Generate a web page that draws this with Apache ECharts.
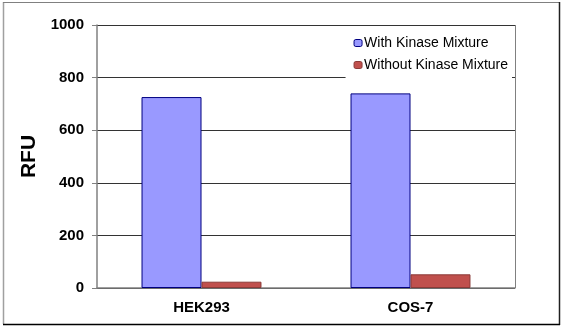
<!DOCTYPE html>
<html><head><meta charset="utf-8">
<script src="https://cdn.jsdelivr.net/npm/echarts@6/dist/echarts.min.js"></script>
<style>html,body{margin:0;padding:0;background:#fff}#c{width:562px;height:328px}</style>
</head><body><div id="c"></div>
<script>
var categories = ['HEK293', 'COS-7'];
var withKinase = [726, 740];
var withoutKinase = [24, 52];
var yTicks = [0, 200, 400, 600, 800, 1000];

var chart = echarts.init(document.getElementById('c'), null, {renderer: 'canvas'});
chart.setOption({
  animation: false,
  backgroundColor: '#fff',
  graphic: [
    {type: 'line', shape: {x1: 3.5, y1: 2, x2: 3.5, y2: 324}, style: {stroke: '#a0a0a0', lineWidth: 1.5}},
    {type: 'line', shape: {x1: 3, y1: 2.5, x2: 559, y2: 2.5}, style: {stroke: '#808080', lineWidth: 1}},
    {type: 'line', shape: {x1: 559.5, y1: 2, x2: 559.5, y2: 325}, style: {stroke: '#202020', lineWidth: 1.5}},
    {type: 'line', shape: {x1: 3, y1: 324.5, x2: 560, y2: 324.5}, style: {stroke: '#000', lineWidth: 1.5}},
    {type: 'line', shape: {x1: 515.5, y1: 25, x2: 515.5, y2: 288}, style: {stroke: '#808080', lineWidth: 1}}
  ],
  grid: {left: 97, right: 47, top: 25, bottom: 40, containLabel: false},
  legend: {
    right: 50, top: 33, orient: 'vertical', itemWidth: 8, itemHeight: 7, itemGap: 8,
    backgroundColor: '#fff', padding: [3, 4, 6, 8],
    textStyle: {fontFamily: 'Liberation Sans, Arial, sans-serif', fontSize: 14, color: '#000', padding: [0, 0, 0, -3]},
    data: [
      {name: 'With Kinase Mixture', itemStyle: {borderColor: '#000080', borderWidth: 1}},
      {name: 'Without Kinase Mixture', itemStyle: {borderColor: '#8B3A38', borderWidth: 1}}
    ]
  },
  xAxis: {
    type: 'category', data: categories,
    axisLine: {lineStyle: {color: '#808080', width: 1.5}},
    axisTick: {show: false},
    axisLabel: {fontFamily: 'Liberation Sans, Arial, sans-serif', fontWeight: 'bold', fontSize: 15, color: '#000', margin: 12}
  },
  yAxis: {
    type: 'value', min: yTicks[0], max: yTicks[yTicks.length - 1], interval: 200,
    name: 'RFU', nameLocation: 'middle', nameGap: 52, nameRotate: 90,
    nameTextStyle: {fontFamily: 'Liberation Sans, Arial, sans-serif', fontWeight: 'bold', fontSize: 21, color: '#000'},
    axisLine: {show: true, lineStyle: {color: '#808080', width: 1.5}},
    axisTick: {show: true, length: 5, lineStyle: {color: '#808080'}},
    axisLabel: {fontFamily: 'Liberation Sans, Arial, sans-serif', fontWeight: 'bold', fontSize: 15, color: '#000', margin: 13,
      formatter: function (v) { return String(v); }},
    splitLine: {lineStyle: {color: '#333', width: 1}}
  },
  series: [
    {name: 'With Kinase Mixture', type: 'bar', data: withKinase, barWidth: '28.7%', barGap: '0%',
     itemStyle: {color: '#9999FF', borderColor: '#000080', borderWidth: 1}},
    {name: 'Without Kinase Mixture', type: 'bar', data: withoutKinase, barWidth: '28.7%',
     itemStyle: {color: '#C0504D', borderColor: '#8B3A38', borderWidth: 1}}
  ]
});
</script></body></html>
